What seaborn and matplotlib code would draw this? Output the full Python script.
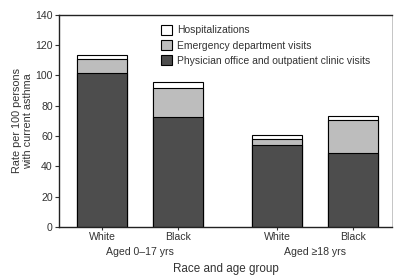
import matplotlib
matplotlib.use("Agg")
import matplotlib.pyplot as plt
import matplotlib.patches as mpatches
import numpy as np
import pandas as pd
import seaborn as sns

# data (rate per 100 persons with current asthma)
race = ["White", "Black", "White", "Black"]
age_group = ["Aged 0\u201317 yrs", "Aged 0\u201317 yrs", "Aged \u226518 yrs", "Aged \u226518 yrs"]
physician = [101.3, 72.3, 54.0, 48.9]
emergency = [9.7, 19.5, 3.7, 21.6]
hospital = [2.3, 3.6, 2.9, 2.8]

series_names = [
    "Hospitalizations",
    "Emergency department visits",
    "Physician office and outpatient clinic visits",
]

# layout
xpos = [0.0, 1.0, 2.3, 3.3]
colors = ["white", "#bdbdbd", "#4d4d4d"]

sns.set_theme(style="white")
plt.rcParams["font.family"] = ["Liberation Sans", "DejaVu Sans"]

df = pd.DataFrame({
    "x": xpos,
    "race": race,
    "phys": physician,
    "ed": emergency,
    "hosp": hospital,
})
df["cum_phys"] = df["phys"]
df["cum_ed"] = df["phys"] + df["ed"]
df["cum_hosp"] = df["cum_ed"] + df["hosp"]

fig = plt.figure(figsize=(3.94, 2.79), dpi=100)
ax = fig.add_axes([0.150, 0.186, 0.845, 0.762])

# draw tallest (cumulative) first, then overlay lower segments
for col, colr in zip(["cum_hosp", "cum_ed", "cum_phys"], colors):
    sns.barplot(
        data=df, x="x", y=col, ax=ax, native_scale=True, width=0.66,
        color=colr, edgecolor="black", linewidth=0.8, saturation=1, errorbar=None,
    )

ax.set_xlim(-0.566, 3.81)
ax.set_ylim(0, 140)
ax.set_yticks(np.arange(0, 141, 20))
ax.set_xticks(xpos)
ax.set_xticklabels(race)
ax.tick_params(axis="both", labelsize=7.6, length=3, width=0.8, direction="out",
               colors="#333333", pad=1.5)
ax.tick_params(axis="x", length=2.5, pad=1)
ax.yaxis.set_ticks_position("left")
ax.xaxis.set_ticks_position("bottom")

for s in ["left", "bottom", "top"]:
    ax.spines[s].set_color("#222222")
    ax.spines[s].set_linewidth(1.0)
ax.spines["right"].set_color("#bbbbbb")
ax.spines["right"].set_linewidth(0.6)

ax.set_xlabel("")
ax.set_ylabel("Rate per 100 persons\nwith current asthma", fontsize=7.8,
              color="#333333", labelpad=2, linespacing=1.1)

# group labels under the race tick labels
groups = [age_group[0], age_group[2]]
centers = [np.mean(xpos[0:2]), np.mean(xpos[2:4])]
for c, g in zip(centers, groups):
    ax.text(c, -0.095, g, transform=ax.get_xaxis_transform(), ha="center",
            va="top", fontsize=7.6, color="#333333")
ax.text(0.5, -0.17, "Race and age group", transform=ax.transAxes, ha="center",
        va="top", fontsize=8.4, color="#333333")

handles = [mpatches.Patch(facecolor=c, edgecolor="black", linewidth=0.8) for c in colors]
ax.legend(handles, series_names, loc="upper left", bbox_to_anchor=(0.294, 0.97),
          frameon=False, fontsize=7.5, handlelength=1.05, handleheight=1.05,
          handletextpad=0.45, labelspacing=0.45, borderaxespad=0,
          labelcolor="#333333")

fig.savefig("out.png", dpi=100)
